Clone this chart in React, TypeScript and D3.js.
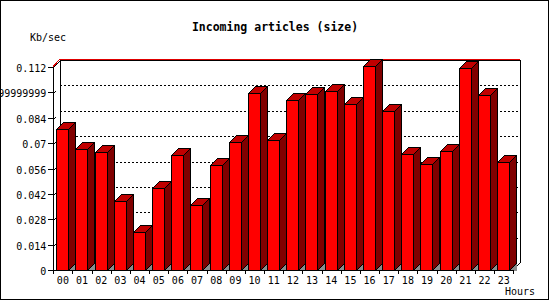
import React from 'react';
import * as d3 from 'd3';

// hourly incoming article volume, Kb/sec
const hours = ['00', '01', '02', '03', '04', '05', '06', '07', '08', '09', '10', '11',
    '12', '13', '14', '15', '16', '17', '18', '19', '20', '21', '22', '23'];
const sizeValues = [0.0776, 0.0666, 0.0649, 0.0381, 0.0208, 0.0451, 0.0633, 0.0357,
    0.0578, 0.0705, 0.0975, 0.0716, 0.0936, 0.0969, 0.0988, 0.0914,
    0.1124, 0.0876, 0.0638, 0.0583, 0.0655, 0.1113, 0.0964, 0.0594];
const yTicks = [0, 0.014, 0.028, 0.042, 0.056, 0.07, 0.084, 0.098, 0.112];
const yTickLabels = ['0', '0.014', '0.028', '0.042', '0.056', '0.07', '0.084', '0.09799999999999999', '0.112'];

const W = 550;
const H = 300;
const DEPTH = 7;
const FONT = "'DejaVu Sans Mono', monospace";

const App: React.FC = () => {
    const left = 53.3;
    const right = 513.3;
    const bottom = 270;
    const top = 67;

    const x = d3.scaleBand<string>().domain(hours).range([left, right]).padding(0);
    const y = d3.scaleLinear().domain([0, 0.112]).range([bottom, top]);
    const step = x.step();
    const barW = 12;

    const poly = (pts: [number, number][]) => d3.line()(pts) + 'Z';

    return (
        <svg width={W} height={H} viewBox={`0 0 ${W} ${H}`}
            style={{ position: 'absolute', left: 0, top: 0, background: '#fff' }}
            shapeRendering="crispEdges">
            <rect x={0.5} y={0.5} width={W - 2} height={H - 1.5} fill="#fff" stroke="#000" />

            {/* back wall */}
            <line x1={left + DEPTH} x2={right + DEPTH} y1={top - DEPTH + 0.5} y2={top - DEPTH + 0.5} stroke="#000" />
            <line x1={left + DEPTH - 1} x2={right + DEPTH} y1={top - DEPTH - 0.5} y2={top - DEPTH - 0.5} stroke="#e00000" />
            <line x1={left} y1={top + 0.5} x2={left + DEPTH} y2={top - DEPTH + 0.5} stroke="#000" />
            <line x1={left} y1={top - 0.5} x2={left + DEPTH - 1} y2={top - DEPTH - 0.5} stroke="#e00000" />
            <line x1={left + DEPTH} x2={left + DEPTH} y1={top - DEPTH} y2={bottom - DEPTH} stroke="#000" />
            <line x1={right + DEPTH} x2={right + DEPTH} y1={top - DEPTH} y2={bottom - DEPTH} stroke="#000" />
            <line x1={right} y1={bottom} x2={right + DEPTH} y2={bottom - DEPTH} stroke="#000" />

            {/* dotted grid */}
            {yTicks.filter(t => t > 0 && t < 0.112).map(t => (
                <line key={`g${t}`} x1={left + DEPTH} x2={right + DEPTH}
                    y1={Math.round(y(t)) - DEPTH + 0.5} y2={Math.round(y(t)) - DEPTH + 0.5}
                    stroke="#000" strokeDasharray="2,2" />
            ))}

            {/* bars */}
            {hours.map((h, i) => {
                const x0 = Math.round((x(h) ?? 0) + 3) + 0.5;
                const x1 = x0 + barW;
                const yT = Math.round(y(sizeValues[i])) + 0.5;
                const yB = bottom + 0.5;
                return (
                    <g key={h}>
                        <path d={poly([[x1, yB], [x1 + DEPTH, yB - DEPTH], [x1 + DEPTH, yB]])} fill="#8c8c8c" />
                        <path d={poly([[x1, yT], [x1 + DEPTH, yT - DEPTH], [x1 + DEPTH, yB - DEPTH], [x1, yB]])}
                            fill="#800000" stroke="#000" />
                        <path d={poly([[x0, yT], [x0 + DEPTH, yT - DEPTH], [x1 + DEPTH, yT - DEPTH], [x1, yT]])}
                            fill="#c00000" stroke="#000" />
                        <rect x={x0} y={yT} width={barW} height={yB - yT} fill="#ff0000" stroke="#000" />
                    </g>
                );
            })}

            {/* axes */}
            <line x1={left} x2={left} y1={top} y2={bottom + 4} stroke="#000" />
            <line x1={left} x2={right} y1={bottom + 0.5} y2={bottom + 0.5} stroke="#000" />
            {yTicks.map((t, i) => {
                const ty = Math.round(y(t)) + 0.5;
                return (
                    <g key={`y${t}`}>
                        <line x1={left - 5} x2={left} y1={ty} y2={ty} stroke="#000" />
                        {t > 0 && t < 0.112 && (
                            <line x1={left + 1} y1={ty} x2={left + 3} y2={ty - 2} stroke="#000" />
                        )}
                        <text x={left - 7} y={ty + 4} textAnchor="end" fontFamily={FONT} fontSize={10}
                            fill="#000">{yTickLabels[i]}</text>
                    </g>
                );
            })}
            {d3.range(hours.length + 1).map(i => {
                const tx = Math.round(left + i * step) + 0.5;
                return <line key={`xt${i}`} x1={tx} x2={tx} y1={bottom} y2={bottom + 4} stroke="#000" />;
            })}
            {hours.map(h => (
                <text key={`xl${h}`} x={(x(h) ?? 0) + step / 2} y={284} textAnchor="middle"
                    fontFamily={FONT} fontSize={10} fill="#000">{h}</text>
            ))}

            <text x={W / 2} y={31} textAnchor="middle" fontFamily={FONT} fontSize={11.5}
                fontWeight="bold" fill="#000">Incoming articles (size)</text>
            <text x={30} y={41} fontFamily={FONT} fontSize={10} fill="#000">Kb/sec</text>
            <text x={505} y={295} fontFamily={FONT} fontSize={10} fill="#000">Hours</text>
        </svg>
    );
};

export default App;
